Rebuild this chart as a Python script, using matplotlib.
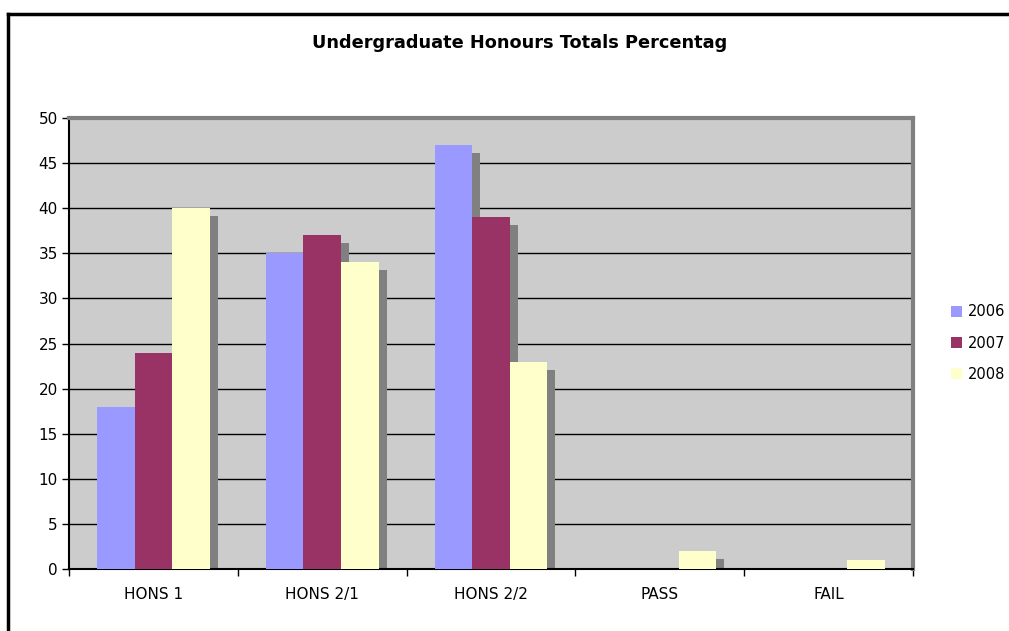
import matplotlib
matplotlib.use("Agg")
import matplotlib.pyplot as plt
import numpy as np
from matplotlib.lines import Line2D
from matplotlib.patches import Patch

categories = ["HONS 1", "HONS 2/1", "HONS 2/2", "PASS", "FAIL"]
years = ["2006", "2007", "2008"]
pct_2006 = [18, 35, 47, 0, 0]
pct_2007 = [24, 37, 39, 0, 0]
pct_2008 = [40, 34, 23, 2, 1]
colors = ["#9999FF", "#993366", "#FFFFCC"]

series = [pct_2006, pct_2007, pct_2008]
x = np.arange(len(categories))
width = 0.223
shadow_dx = 0.047
shadow_dy = 0.9

fig = plt.figure(figsize=(10.09, 6.31), dpi=100)
ax = fig.add_axes([69 / 1009, 1 - 569 / 631, (913 - 69) / 1009, (569 - 118) / 631])
ax.set_facecolor("#CCCCCC")

for i, (vals, c) in enumerate(zip(series, colors)):
    pos = x + (i - 1) * width
    vals = np.array(vals, dtype=float)
    # drop shadow behind each bar
    mask = vals > 0
    ax.bar(pos[mask] + shadow_dx, vals[mask], width, bottom=-shadow_dy,
           color="#808080", zorder=2, linewidth=0)
    ax.bar(pos, vals, width, color=c, zorder=3, linewidth=0, label=years[i])

ax.set_xlim(-0.5, 4.5)
ax.set_ylim(0, 50)
ax.set_yticks(np.arange(0, 51, 5))
ax.yaxis.grid(True, color="black", linewidth=1.0, zorder=1)
ax.set_axisbelow(True)

ax.set_xticks(np.arange(-0.5, 4.6, 1.0))
ax.set_xticklabels([])
ax.set_xticks(x, minor=True)
ax.set_xticklabels(categories, minor=True, fontsize=11)
ax.tick_params(axis="x", which="minor", length=0, pad=13)
ax.tick_params(axis="x", which="major", length=5, width=1, direction="out")
ax.tick_params(axis="y", length=5, width=1, direction="out", labelsize=11, pad=3)

for s in ["left", "bottom"]:
    ax.spines[s].set_color("black")
    ax.spines[s].set_linewidth(1.5)
for s in ["top", "right"]:
    ax.spines[s].set_color("#808080")
    ax.spines[s].set_linewidth(3)

fig.text(520 / 1009, 1 - 43 / 631, "Undergraduate Honours Totals Percentag",
         ha="center", va="center", fontsize=12.8, fontweight="bold")

handles = [Patch(facecolor=c, edgecolor="none") for c in colors]
fig.legend(handles, years, loc="center left", bbox_to_anchor=(938 / 1009, 1 - 343 / 631),
           frameon=False, fontsize=10.5, handlelength=0.75, handleheight=0.75,
           handletextpad=0.4, labelspacing=1.1)

# outer chart border (top and left visible)
fig.add_artist(Line2D([8 / 1009, 8 / 1009], [0, 1 - 14 / 631], transform=fig.transFigure,
                      color="black", linewidth=2.5))
fig.add_artist(Line2D([8 / 1009, 1], [1 - 14 / 631, 1 - 14 / 631], transform=fig.transFigure,
                      color="black", linewidth=2.5))

fig.savefig("out.png", dpi=100)
